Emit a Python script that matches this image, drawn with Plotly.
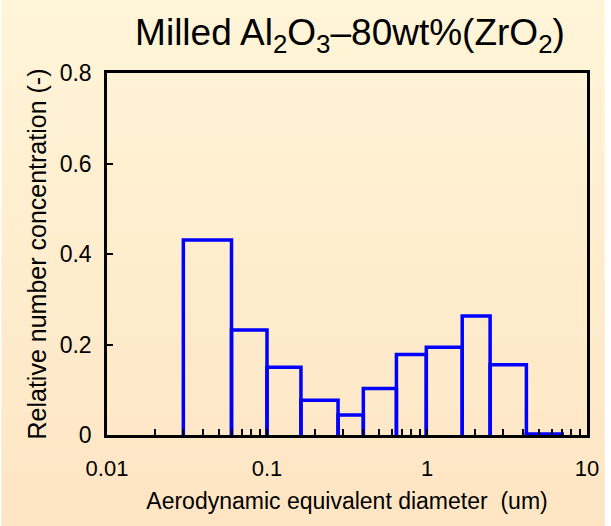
import plotly.graph_objects as go

# Bin edges (aerodynamic equivalent diameter, um) and relative number concentration
bin_lower = [0.03, 0.06, 0.10, 0.163, 0.278, 0.40, 0.644, 0.99, 1.66, 2.48, 4.18]
bin_upper = [0.06, 0.10, 0.163, 0.278, 0.40, 0.644, 0.99, 1.66, 2.48, 4.18, 7.0]
concentration = [0.431, 0.232, 0.150, 0.077, 0.044, 0.103, 0.178, 0.194, 0.263, 0.155, 0.002]

x_tickvals = [0.01, 0.1, 1, 10]
x_ticktext = ["0.01", "0.1", "1", "10"]
y_tickvals = [0, 0.2, 0.4, 0.6, 0.8]
y_ticktext = ["0", "0.2", "0.4", "0.6", "0.8"]

# outline path of each bar
xs, ys = [], []
for lo, hi, v in zip(bin_lower, bin_upper, concentration):
    xs += [lo, lo, hi, hi, None]
    ys += [0, v, v, 0, None]

fig = go.Figure()
fig.add_trace(go.Scatter(x=xs, y=ys, mode="lines",
                         line=dict(color="#0000FF", width=3.5),
                         hoverinfo="skip", showlegend=False, cliponaxis=False))

W, H = 611, 526
ml, mr, mt, mb = 107, 18, 73, 91
pw, ph = W - ml - mr, H - mt - mb

# vertical gradient background made of thin bands (paper coordinates)
top = (255, 245, 216)
bot = (254, 229, 195)
n = 60
shapes = []
x0p = -ml / pw
x1p = 1 + mr / pw
for i in range(n):
    t = (i + 0.5) / n
    c = tuple(round(top[k] + (bot[k] - top[k]) * t) for k in range(3))
    ypix_top = i * H / n
    ypix_bot = (i + 1) * H / n + 0.6
    y1 = 1 - (ypix_top - mt) / ph
    y0 = 1 - (ypix_bot - mt) / ph
    shapes.append(dict(type="rect", xref="paper", yref="paper",
                       x0=x0p, x1=x1p, y0=y0, y1=y1, layer="below",
                       line=dict(width=0), fillcolor="rgb(%d,%d,%d)" % c))

font = "Liberation Sans, Arial, sans-serif"
fig.update_layout(
    width=W, height=H,
    margin=dict(l=ml, r=mr, t=mt, b=mb),
    paper_bgcolor="rgba(0,0,0,0)",
    plot_bgcolor="rgba(0,0,0,0)",
    shapes=shapes,
    font=dict(family=font, color="black"),
    title=dict(text="Milled Al<sub>2</sub>O<sub>3</sub>–80wt%(ZrO<sub>2</sub>)",
               x=(ml + pw / 2) / W, xanchor="center", y=1 - 32 / H, yanchor="middle",
               font=dict(size=37, family=font, color="black")),
    xaxis=dict(type="log", range=[-2, 1], tickvals=x_tickvals, ticktext=x_ticktext,
               ticks="inside", ticklen=6, tickwidth=2, tickcolor="black",
               showline=True, linecolor="black", linewidth=2.5, mirror=True,
               showgrid=False, zeroline=False,
               minor=dict(ticks="inside", ticklen=6, tickwidth=2, tickcolor="black",
                          dtick="D1", showgrid=False),
               tickfont=dict(size=22), ticklabelstandoff=12,
               title=dict(text="Aerodynamic equivalent diameter  (um)",
                          font=dict(size=23), standoff=13)),
    yaxis=dict(range=[0, 0.8], tickvals=y_tickvals, ticktext=y_ticktext,
               ticks="inside", ticklen=6, tickwidth=2, tickcolor="black",
               showline=True, linecolor="black", linewidth=2.5, mirror=True,
               showgrid=False, zeroline=False,
               tickfont=dict(size=23), ticklabelstandoff=8,
               title=dict(text="Relative number concentration (-)",
                          font=dict(size=25), standoff=6)),
)

fig.write_html("out.html")
